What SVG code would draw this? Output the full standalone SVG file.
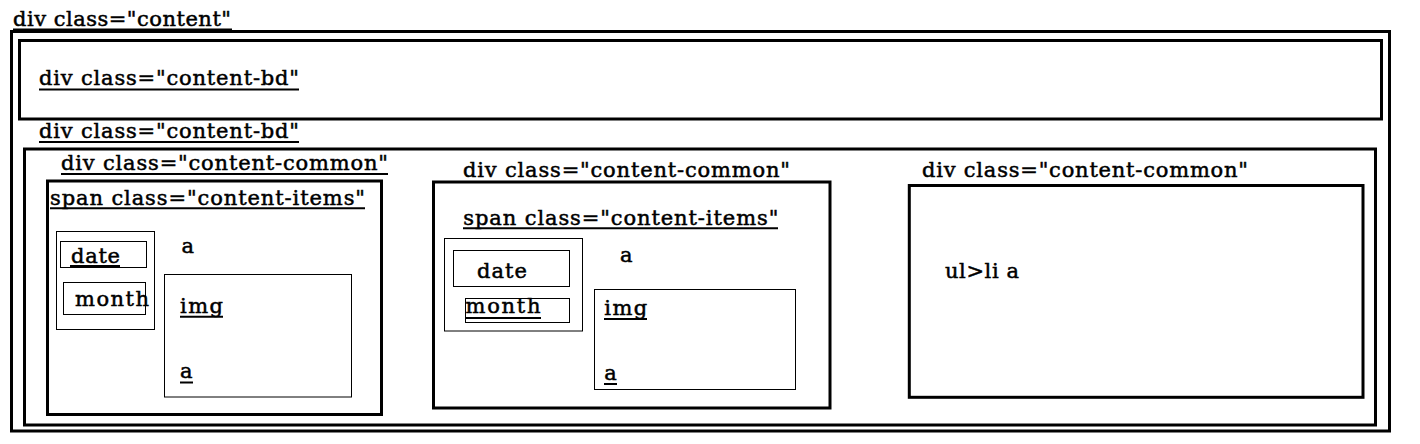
<svg xmlns="http://www.w3.org/2000/svg" width="1420" height="444" viewBox="0 0 1420 444">
<style>
.thick{fill:none;stroke:#000;stroke-width:3}
.thin{fill:none;stroke:#000;stroke-width:1}
.t{font-family:"DejaVu Serif","Liberation Serif",serif;font-size:21px;fill:#000;stroke:#000;stroke-width:0.5}
.u{stroke:#000;stroke-width:2}
</style>
<rect width="1420" height="444" fill="#fff"/>
<g id="content">
<rect class="thick" x="11.5" y="31.5" width="1378" height="399.5"/>
<text class="t" x="13" y="26" textLength="218">div class="content"</text>
<line class="u" x1="13" y1="29.5" x2="232" y2="29.5"/>
</g>
<g id="content-bd-1">
<rect class="thick" x="19.5" y="40.5" width="1362" height="78.5"/>
<text class="t" x="39" y="85" textLength="260">div class="content-bd"</text>
<line class="u" x1="39" y1="89.5" x2="299" y2="89.5"/>
</g>
<g id="content-bd-2">
<rect class="thick" x="24.5" y="149" width="1351" height="276"/>
<text class="t" x="39" y="138" textLength="260">div class="content-bd"</text>
<line class="u" x1="39" y1="142" x2="299" y2="142"/>
</g>
<g id="common-1">
<rect class="thick" x="47.5" y="181" width="334" height="233.5"/>
<text class="t" x="61" y="170" textLength="327">div class="content-common"</text>
<line class="u" x1="61" y1="174" x2="388" y2="174"/>
<text class="t" x="50" y="205" textLength="315">span class="content-items"</text>
<line class="u" x1="50" y1="208.3" x2="365" y2="208.3"/>
<rect class="thin" x="56.5" y="231.5" width="98" height="98"/>
<rect class="thin" x="60.5" y="241.5" width="86" height="26"/>
<text class="t" x="71" y="262.5" textLength="49">date</text>
<line class="u" x1="70" y1="266" x2="120" y2="266"/>
<rect class="thin" x="63.5" y="282.5" width="82" height="32"/>
<text class="t" x="75" y="305.5" textLength="74">month</text>
<text class="t" x="181.5" y="253">a</text>
<rect class="thin" x="164.5" y="274.5" width="187" height="122.5"/>
<text class="t" x="180" y="313" textLength="43">img</text>
<line class="u" x1="180" y1="316.8" x2="223" y2="316.8"/>
<text class="t" x="180" y="378">a</text>
<line class="u" x1="180" y1="382.5" x2="193" y2="382.5"/>
</g>
<g id="common-2">
<rect class="thick" x="433.5" y="182" width="396.5" height="226"/>
<text class="t" x="463" y="176.7" textLength="327">div class="content-common"</text>
<text class="t" x="463.3" y="225" textLength="315">span class="content-items"</text>
<line class="u" x1="463" y1="228.3" x2="778" y2="228.3"/>
<rect class="thin" x="444.5" y="238.5" width="138" height="92.5"/>
<rect class="thin" x="453.5" y="250.5" width="116" height="36"/>
<text class="t" x="477" y="278.3" textLength="50">date</text>
<rect class="thin" x="465.5" y="298.5" width="104" height="24"/>
<text class="t" x="465.5" y="313.3" textLength="75">month</text>
<line class="u" x1="465" y1="318" x2="541" y2="318"/>
<text class="t" x="620" y="262">a</text>
<rect class="thin" x="594.5" y="289.5" width="201" height="100"/>
<text class="t" x="604.3" y="315" textLength="43">img</text>
<line class="u" x1="604" y1="319" x2="647" y2="319"/>
<text class="t" x="604.3" y="380">a</text>
<line class="u" x1="604" y1="384" x2="617" y2="384"/>
</g>
<g id="common-3">
<rect class="thick" x="909.3" y="185.5" width="453.7" height="211.8"/>
<text class="t" x="922" y="176.7" textLength="326">div class="content-common"</text>
<text class="t" x="945" y="277.7" textLength="74">ul&gt;li a</text>
</g>
<g id="connectors"/>
</svg>
